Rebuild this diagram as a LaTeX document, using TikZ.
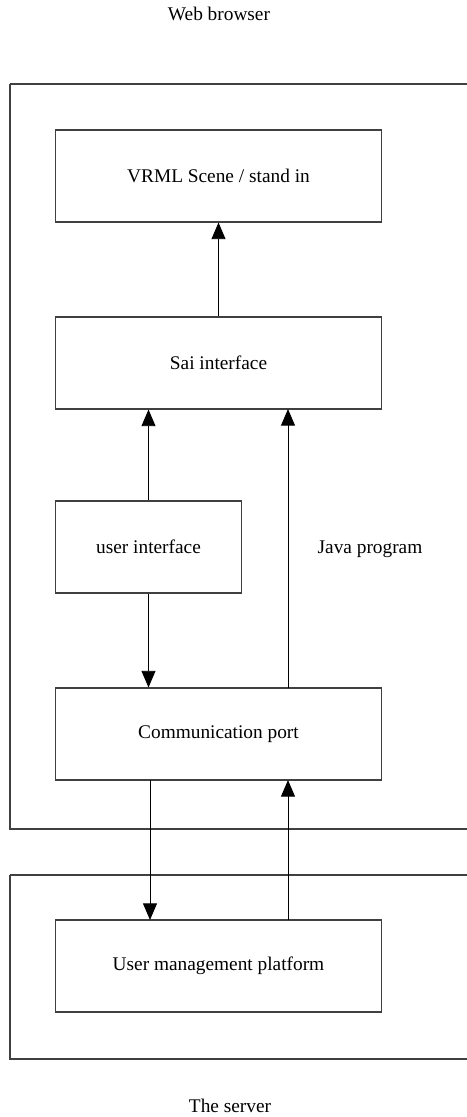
\documentclass[tikz,border=0pt]{standalone}
\usepackage{fontspec}
\setmainfont{Liberation Serif}
\usetikzlibrary{arrows.meta}
\begin{document}
\begin{tikzpicture}[x=0.75pt, y=-0.75pt]
  % Define box, frame and arrow styles
  \tikzstyle{myframe} = [draw=black!75, line width=0.9pt]
  \tikzstyle{mybox} = [draw=black!75, line width=0.8pt, rectangle, minimum height=69pt,
  font=\fontsize{14.5}{17}\selectfont]
  \tikzstyle{mytitle} = [font=\fontsize{14.5}{17}\selectfont]
  \tikzstyle{myarrow} = [draw=black, line width=0.7pt, -{Triangle[width=10.5pt, length=12.5pt]}]

  \useasboundingbox (0,0) rectangle (467,1117);

  % outer frames
  \draw[myframe] (10,84) -- (480,84) (10,84) -- (10,829) -- (480,829);
  \draw[myframe] (10,875) -- (480,875) (10,875) -- (10,1059) -- (480,1059);
  \node[mytitle] (browser) at (219,14) {Web browser};
  \node[mytitle] (server) at (230,1106) {The server};

  % boxes
  \node[mybox, minimum width=244pt] (vrml) at (218.5,176) {VRML Scene / stand in};
  \node[mybox, minimum width=244pt] (sai) at (218.5,363) {Sai interface};
  \node[mybox, minimum width=139pt] (user) at (148.5,547) {user interface};
  \node[mybox, minimum width=244pt] (comm) at (218.5,734) {Communication port};
  \node[mybox, minimum width=244pt] (ump) at (218.5,966) {User management platform};
  \node[mytitle] (java) at (370,549) {Java program};

  % arrows
  \draw[myarrow] (sai.north) -- (vrml.south);
  \draw[myarrow] (user.north) -- (user.north |- sai.south);
  \draw[myarrow] (288,688) -- (288,409);
  \draw[myarrow] (user.south) -- (user.south |- comm.north);
  \draw[myarrow] (150,780) -- (150,920);
  \draw[myarrow] (288,920) -- (288,780);
\end{tikzpicture}
\end{document}
